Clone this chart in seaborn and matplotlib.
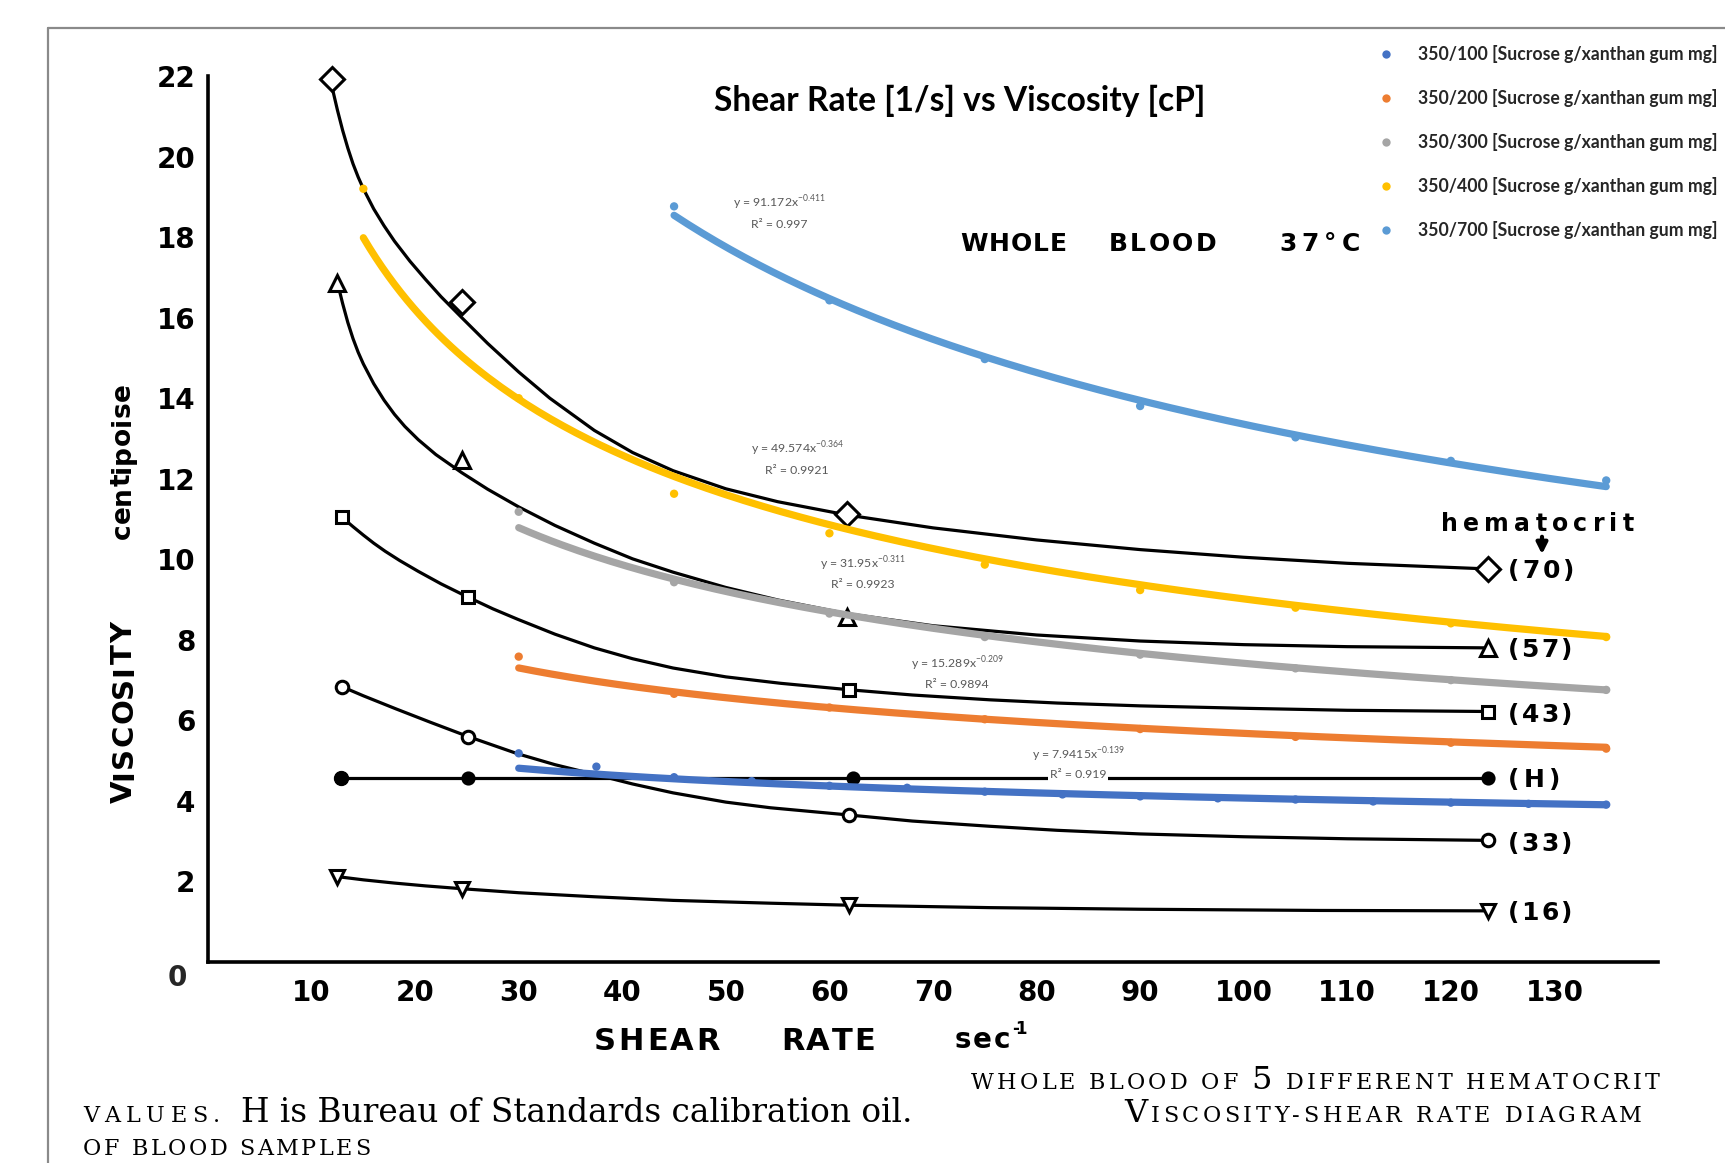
import numpy as np
import pandas as pd
import matplotlib
matplotlib.use("Agg")
import matplotlib.pyplot as plt
from matplotlib.lines import Line2D
import seaborn as sns

W, H = 1725, 1163
DPI = 100

# ---------------- whole-blood curves (viscosity cP vs shear rate 1/s) ----------------
hct_names = ["(70)", "(57)", "(43)", "(H)", "(33)", "(16)"]

c70_x = [12.0, 12.5, 13.0, 13.5, 14.0, 14.5, 15.0, 16.0, 17.0, 18.0, 19.5, 21.0, 22.5, 24.5,
         27.0, 30.0, 33.0, 37.3, 41.0, 44.9, 50.0, 55.0, 61.7, 70.0, 80.0, 90.0, 100.0,
         110.0, 123.6]
c70_y = [21.70, 21.15, 20.65, 20.21, 19.82, 19.49, 19.20, 18.70, 18.28, 17.90, 17.40, 16.95,
         16.52, 16.00, 15.36, 14.65, 14.00, 13.20, 12.65, 12.20, 11.75, 11.43, 11.10, 10.78,
         10.48, 10.24, 10.05, 9.90, 9.76]
c57_x = [12.5, 13.0, 13.5, 14.0, 14.5, 15.0, 16.0, 17.0, 18.0, 19.0, 20.3, 22.0, 24.5, 27.0,
         30.0, 33.5, 37.3, 41.0, 44.9, 50.0, 55.0, 61.7, 70.0, 80.0, 90.0, 100.0, 110.0, 123.6]
c57_y = [16.87, 16.35, 15.88, 15.48, 15.14, 14.85, 14.36, 13.95, 13.60, 13.30, 12.97, 12.60,
         12.15, 11.74, 11.30, 10.84, 10.40, 10.01, 9.68, 9.30, 8.99, 8.65, 8.35, 8.12, 7.97,
         7.88, 7.83, 7.80]
c43_x = [12.9, 14.0, 15.0, 16.0, 17.1, 18.5, 20.3, 22.5, 25.1, 27.5, 29.9, 33.5, 37.3, 41.0,
         44.9, 50.0, 55.3, 61.9, 68.0, 75.5, 82.0, 90.0, 100.0, 110.0, 123.6]
c43_y = [11.05, 10.81, 10.60, 10.40, 10.20, 9.97, 9.70, 9.39, 9.06, 8.77, 8.51, 8.14, 7.80,
         7.53, 7.30, 7.08, 6.92, 6.76, 6.63, 6.51, 6.43, 6.36, 6.30, 6.25, 6.22]
cH_x = [12.8, 25.1, 62.3, 123.6]
cH_y = [4.58, 4.58, 4.58, 4.58]
c33_x = [12.9, 15.0, 18.2, 21.5, 25.1, 29.9, 33.5, 37.3, 41.0, 44.9, 50.0, 54.3, 61.9, 68.0,
         75.5, 82.0, 90.0, 100.0, 110.0, 123.6]
c33_y = [6.84, 6.61, 6.28, 5.95, 5.60, 5.17, 4.90, 4.66, 4.42, 4.20, 3.97, 3.83, 3.65, 3.50,
         3.37, 3.27, 3.18, 3.11, 3.06, 3.02]
c16_x = [12.5, 15.0, 18.0, 21.0, 24.5, 30.0, 37.3, 44.9, 54.3, 61.9, 75.5, 90.0, 107.4, 123.6]
c16_y = [2.12, 2.04, 1.96, 1.89, 1.82, 1.72, 1.62, 1.53, 1.46, 1.41, 1.35, 1.31, 1.28, 1.27]

# measured points on each curve
m70_x = [12.0, 24.5, 61.7, 123.6]; m70_y = [21.93, 16.38, 11.13, 9.76]
m57_x = [12.5, 24.5, 61.7, 123.6]; m57_y = [16.87, 12.47, 8.56, 7.80]
m43_x = [12.9, 25.1, 61.9, 123.6]; m43_y = [11.05, 9.06, 6.76, 6.22]
mH_x = [12.8, 25.1, 62.3, 123.6]; mH_y = [4.58, 4.58, 4.58, 4.58]
m33_x = [12.9, 25.1, 61.9, 123.6]; m33_y = [6.84, 5.59, 3.65, 3.02]
m16_x = [12.5, 24.5, 61.9, 123.6]; m16_y = [2.12, 1.82, 1.41, 1.27]

# ---------------- sucrose / xanthan gum solutions ----------------
mix_labels = ["350/100 [Sucrose g/xanthan gum mg]",
              "350/200 [Sucrose g/xanthan gum mg]",
              "350/300 [Sucrose g/xanthan gum mg]",
              "350/400 [Sucrose g/xanthan gum mg]",
              "350/700 [Sucrose g/xanthan gum mg]"]
mix_colors = ["#4472C4", "#ED7D31", "#A5A5A5", "#FFC000", "#5B9BD5"]

s100_x = [30, 37.5, 45, 52.5, 60, 67.5, 75, 82.5, 90, 97.5, 105, 112.5, 120, 127.5, 135]
s100_y = [5.33, 4.99, 4.72, 4.62, 4.50, 4.45, 4.35, 4.28, 4.23, 4.18, 4.15, 4.10, 4.07, 4.04, 4.02]
s200_x = [30, 45, 60, 75, 90, 105, 120, 135]
s200_y = [7.8, 6.85, 6.5, 6.2, 5.95, 5.75, 5.6, 5.45]
s300_x = [30, 45, 60, 75, 90, 105, 120, 135]
s300_y = [11.5, 9.7, 8.9, 8.3, 7.85, 7.5, 7.2, 6.95]
s400_x = [15, 30, 45, 60, 75, 90, 105, 120, 135]
s400_y = [19.75, 14.4, 11.96, 10.95, 10.15, 9.5, 9.05, 8.65, 8.3]
s700_x = [45, 60, 75, 90, 105, 120, 135]
s700_y = [19.3, 16.9, 15.4, 14.2, 13.4, 12.8, 12.3]

# power-law trendlines y = a * x^b
trend_a = [7.9415, 15.289, 31.95, 49.574, 91.172]
trend_b = [-0.139, -0.209, -0.311, -0.364, -0.411]
trend_r2 = [0.919, 0.9894, 0.9923, 0.9921, 0.997]

# ---------------- helpers ----------------
def fx(px):
    return px / W

def fy(py):
    return 1 - py / H

sns.set_theme(style="white")
plt.rcParams["font.family"] = ["DejaVu Sans"]

fig = plt.figure(figsize=(W / DPI, H / DPI), dpi=DPI)
fig.patch.set_facecolor("white")
renderer = fig.canvas.get_renderer()


def measure(s, size, weight, family):
    t = fig.text(0, 0, s, fontsize=size, fontweight=weight, family=family)
    w = t.get_window_extent(renderer).width
    t.remove()
    return w


def spread(pieces, start, end, base, weight="bold", family="DejaVu Sans",
           color="black", vertical=False):
    """Lay out letters one by one (pieces = [(text, size), ...]) so they fill start..end."""
    chars = [(ch, size) for text, size in pieces for ch in text]
    widths = [size * 0.32 * DPI / 72 if ch == " " else measure(ch, size, weight, family)
              for ch, size in chars]
    gap = (abs(end - start) - sum(widths)) / max(len(chars) - 1, 1)
    pos = start
    for (ch, size), w in zip(chars, widths):
        if ch != " ":
            if vertical:
                fig.text(fx(base), fy(pos), ch, rotation=90, rotation_mode="anchor",
                         ha="left", va="baseline", fontsize=size, fontweight=weight,
                         family=family, color=color)
            else:
                fig.text(fx(pos), fy(base), ch, ha="left", va="baseline", fontsize=size,
                         fontweight=weight, family=family, color=color)
        pos = pos - (w + gap) if vertical else pos + (w + gap)


def fitted(s, x0, x1, y, size, va="baseline", **kw):
    t = fig.text(fx((x0 + x1) / 2), fy(y), s, ha="center", va=va, fontsize=size, **kw)
    w = t.get_window_extent(renderer).width
    t.set_fontsize(size * (x1 - x0) / w)
    return t


# ---------------- base axes: whole blood diagram ----------------
ax = fig.add_axes([fx(208), fy(962), (1658 - 208) / W, (962 - 76) / H])
ax.set_xlim(0, 140)
ax.set_ylim(0, 22)
ax.patch.set_alpha(0)
for side in ("top", "right"):
    ax.spines[side].set_visible(False)
for side in ("left", "bottom"):
    ax.spines[side].set_color("black")
    ax.spines[side].set_linewidth(2.6)

ax.set_xticks(range(10, 140, 10))
ax.set_yticks(range(2, 23, 2))
ax.set_xticklabels([str(v) for v in range(10, 140, 10)], fontweight="bold", fontsize=20)
ax.set_yticklabels([str(v) for v in range(2, 23, 2)], fontweight="bold", fontsize=20)
ax.tick_params(axis="y", direction="in", length=6, width=2.4, pad=9, colors="black")
ax.tick_params(axis="x", direction="in", length=3.5, width=2.4, pad=12, colors="black")
ax.set_xlabel("")
ax.set_ylabel("")

curves = [(c70_x, c70_y), (c57_x, c57_y), (c43_x, c43_y), (cH_x, cH_y),
          (c33_x, c33_y), (c16_x, c16_y)]
marks = [(m70_x, m70_y), (m57_x, m57_y), (m43_x, m43_y), (mH_x, mH_y),
         (m33_x, m33_y), (m16_x, m16_y)]
mstyle = [("D", 12, "white"), ("^", 11, "white"), ("s", 8, "white"),
          ("o", 8, "black"), ("o", 9, "white"), ("v", 10, "white")]

for (cx, cy), (mx, my), (mk, ms, fc) in zip(curves, marks, mstyle):
    sns.lineplot(x=cx, y=cy, ax=ax, color="black", linewidth=2.3,
                 estimator=None, sort=False, legend=False)
    ax.plot(mx, my, linestyle="none", marker=mk, markersize=ms, markerfacecolor=fc,
            markeredgecolor="black", markeredgewidth=2.2, clip_on=False, zorder=4)
# larger calibration-oil point at the low shear end
ax.plot(mH_x[:1], mH_y[:1], linestyle="none", marker="o", markersize=10,
        color="black", zorder=4)

# ---------------- overlay axes: solution measurements ----------------
ax2 = fig.add_axes(ax.get_position())
ax2.set_xlim(0, 140)
ax2.set_ylim(0, 22.63)
ax2.patch.set_alpha(0)
ax2.set_axis_off()

trend_rows = []
for lab, sx, a, b in zip(mix_labels, [s100_x, s200_x, s300_x, s400_x, s700_x],
                         trend_a, trend_b):
    xs = np.linspace(sx[0], sx[-1], 200)
    trend_rows.append(pd.DataFrame({"x": xs, "y": a * xs ** b, "mix": lab}))
trend_df = pd.concat(trend_rows, ignore_index=True)

pts_df = pd.concat([
    pd.DataFrame({"x": s100_x, "y": s100_y, "mix": mix_labels[0]}),
    pd.DataFrame({"x": s200_x, "y": s200_y, "mix": mix_labels[1]}),
    pd.DataFrame({"x": s300_x, "y": s300_y, "mix": mix_labels[2]}),
    pd.DataFrame({"x": s400_x, "y": s400_y, "mix": mix_labels[3]}),
    pd.DataFrame({"x": s700_x, "y": s700_y, "mix": mix_labels[4]}),
], ignore_index=True)

palette = dict(zip(mix_labels, mix_colors))
sns.lineplot(data=trend_df, x="x", y="y", hue="mix", hue_order=mix_labels,
             palette=palette, linewidth=5.2, estimator=None, sort=False,
             legend=False, ax=ax2)
sns.scatterplot(data=pts_df, x="x", y="y", hue="mix", hue_order=mix_labels,
                palette=palette, s=36, edgecolor="none", legend=True, ax=ax2, zorder=3)
handles, labels = ax2.get_legend_handles_labels()
ax2.legend(handles, labels, loc="upper left", bbox_to_anchor=(fx(1377), fy(45)),
           bbox_transform=fig.transFigure, frameon=False,
           prop={"family": "Lato", "weight": "bold", "size": 12.7},
           labelspacing=1.47, handletextpad=1.3, handlelength=1.0,
           borderpad=0, borderaxespad=0, markerscale=1.0)

# trendline equations
lbl_pos = [(1078, 755, 775), (957, 664, 685), (863, 564, 585), (797, 449, 470), (779, 203, 224)]
for (xc, y1, y2), a, b, r2 in zip(lbl_pos, trend_a, trend_b, trend_r2):
    box = dict(facecolor="white", edgecolor="none", pad=1.5)
    fig.text(fx(xc), fy(y1), f"y = {a}x$^{{\\mathregular{{{b}}}}}$", ha="center", va="center",
             fontsize=8.8, color="#595959", family="Lato", bbox=box, zorder=6)
    fig.text(fx(xc), fy(y2), f"R² = {r2}", ha="center", va="center",
             fontsize=8.8, color="#595959", family="Lato", bbox=box, zorder=6)

# ---------------- lettering ----------------
fig.text(fx(177), fy(978), "0", ha="center", va="center", fontsize=20, fontweight="bold")

spread([("SHEAR", 22)], 594, 720, 1050)
spread([("RATE", 22)], 781, 875, 1050)
spread([("sec", 20)], 955, 1010, 1048)
spread([("-1", 12)], 1012, 1027, 1034)

spread([("VISCOSITY", 21)], 803, 622, 132, vertical=True)
spread([("centipoise", 19)], 539, 383, 130, vertical=True)

spread([("WHOLE", 18)], 960, 1067, 251)
spread([("BLOOD", 18)], 1109, 1216, 251)
spread([("37°C", 18)], 1279, 1360, 251)

spread([("hematocrit", 17)], 1441, 1634, 531)
ax.annotate("", xy=(fx(1542), fy(557)), xytext=(fx(1542), fy(534)),
            xycoords="figure fraction", textcoords="figure fraction",
            arrowprops=dict(arrowstyle="-|>", color="black", lw=3, mutation_scale=16))

right_y = [578, 657, 722, 787, 851, 920]
right_w = [66, 64, 64, 52, 64, 64]
for name, yb, wd in zip(hct_names, right_y, right_w):
    spread([(name, 18)], 1508, 1508 + wd, yb)

fitted("Shear Rate [1/s] vs Viscosity [cP]", 714, 1206, 101, 24, va="center",
       fontweight="bold", family=["Liberation Sans Narrow", "Lato"], color="black")

# caption lines in small capitals
serif = "DejaVu Serif"
spread([("WHOLE BLOOD OF ", 16), ("5", 23), (" DIFFERENT HEMATOCRIT", 16)],
       971, 1660, 1089, weight="normal", family=serif)
spread([("V", 23), ("ISCOSITY-SHEAR RATE DIAGRAM", 16)],
       1124, 1642, 1122, weight="normal", family=serif)
spread([("VALUES.", 16)], 83, 220, 1122, weight="normal", family=serif)
spread([("OF BLOOD SAMPLES", 16)], 83, 370, 1155, weight="normal", family=serif)
fitted("H is Bureau of Standards calibration oil.", 242, 912, 1122, 21,
       family=serif, color="black")

# chart border
fig.add_artist(Line2D([fx(48), fx(48)], [fy(28), 0], transform=fig.transFigure,
                      color="#8a8a8a", lw=1.6))
fig.add_artist(Line2D([fx(48), 1], [fy(28), fy(28)], transform=fig.transFigure,
                      color="#8a8a8a", lw=1.6))

fig.savefig("out.png", dpi=DPI, facecolor="white")
